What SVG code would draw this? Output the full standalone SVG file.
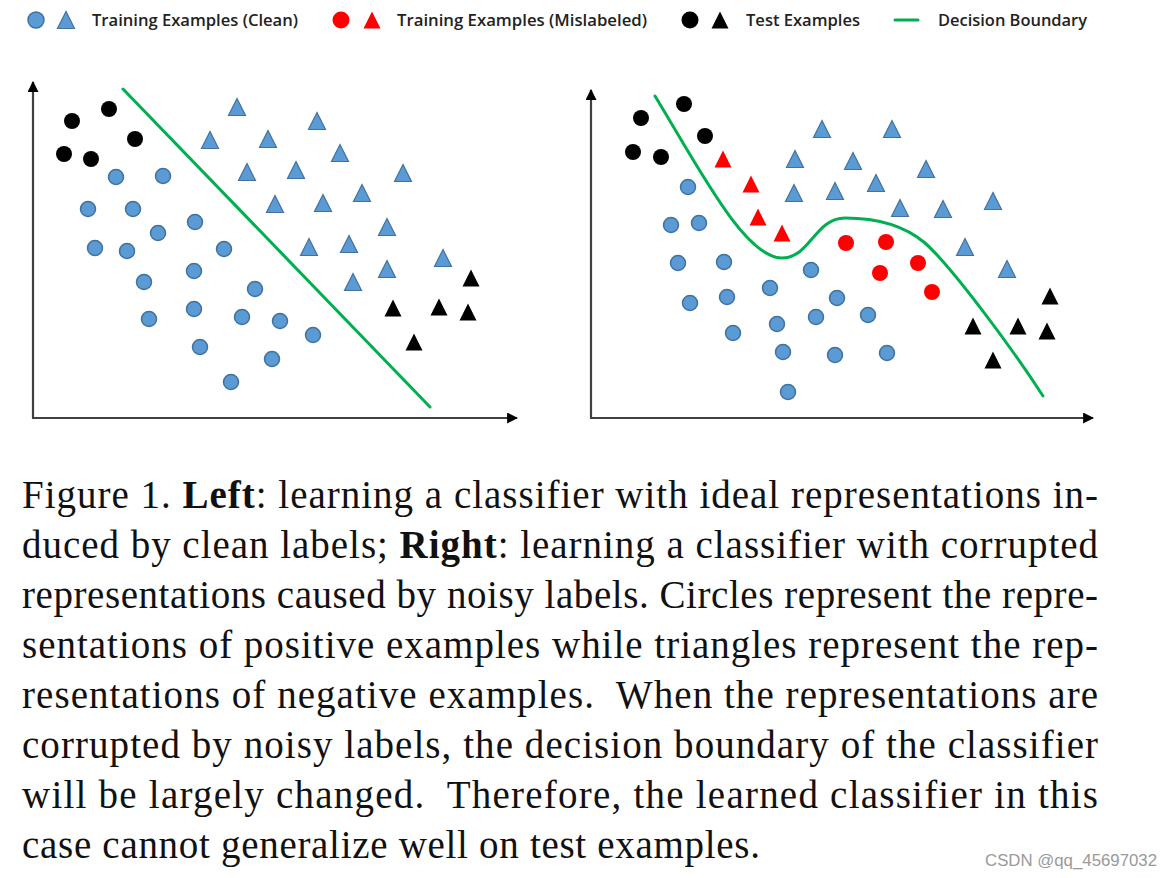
<svg xmlns="http://www.w3.org/2000/svg" xmlns:xlink="http://www.w3.org/1999/xlink" width="1172" height="878" viewBox="0 0 1172 878">
<style>
.bc{fill:#5B9BD5;stroke:#41719C;stroke-width:1.5}
.bt{fill:#5B9BD5;stroke:#41719C;stroke-width:1.2}
.rc{fill:#FF0000}
.rt{fill:#FF0000}
.kc{fill:#000}
.kt{fill:#000}
.axis{stroke:#404040;stroke-width:2.2;fill:none}
.bound{stroke:#00B050;stroke-width:3;fill:none;stroke-linecap:round}
.leg{font-family:"Open Sans","Liberation Sans",sans-serif;font-weight:600;font-size:16px;fill:#222}
.cap{font-family:"Liberation Serif","Times New Roman",serif;font-size:39px;fill:#111}
.wm{font-family:"Liberation Sans",Arial,sans-serif;font-size:16px;fill:#9a9a9a}
</style>
<defs>
<path id="tri" d="M0,-8.5 L8.5,8.5 L-8.5,8.5 Z"/>
<marker id="arr" viewBox="0 0 10 10" refX="9" refY="5" markerWidth="5" markerHeight="5" orient="auto" markerUnits="strokeWidth">
<path d="M0,0 L10,5 L0,10 Z" fill="#000"/>
</marker>
</defs>
<rect width="1172" height="878" fill="#fff"/>

<g id="legend">
<circle class="bc" cx="36" cy="20" r="8"/>
<use href="#tri" class="bt" x="66" y="20"/>
<text class="leg" x="92" y="26" textLength="206" lengthAdjust="spacingAndGlyphs">Training Examples (Clean)</text>
<circle class="rc" cx="341" cy="20" r="8.5"/>
<use href="#tri" class="rt" x="372" y="20"/>
<text class="leg" x="397" y="26" textLength="250" lengthAdjust="spacingAndGlyphs">Training Examples (Mislabeled)</text>
<circle class="kc" cx="690" cy="20" r="8.5"/>
<use href="#tri" class="kt" x="720" y="20"/>
<text class="leg" x="746" y="26" textLength="114" lengthAdjust="spacingAndGlyphs">Test Examples</text>
<line class="bound" x1="895" y1="20" x2="918" y2="20"/>
<text class="leg" x="938" y="26" textLength="149" lengthAdjust="spacingAndGlyphs">Decision Boundary</text>
</g>

<g id="left-plot">
<g id="left-axes">
<line class="axis" x1="33" y1="418" x2="33" y2="82" marker-end="url(#arr)"/>
<line class="axis" x1="32" y1="418" x2="517" y2="418" marker-end="url(#arr)"/>
</g>
<line id="left-boundary" class="bound" x1="123" y1="89" x2="430" y2="407"/>
<g id="left-test-circles" class="kc">
<circle cx="72" cy="121" r="8"/><circle cx="109" cy="109" r="8"/><circle cx="135" cy="139" r="8"/><circle cx="64" cy="154" r="8"/><circle cx="91" cy="159" r="8"/>
</g>
<g id="left-clean-circles" class="bc">
<circle cx="116" cy="177" r="7.5"/><circle cx="163" cy="176" r="7.5"/><circle cx="88" cy="209" r="7.5"/><circle cx="133" cy="209" r="7.5"/><circle cx="195" cy="222" r="7.5"/><circle cx="158" cy="233" r="7.5"/><circle cx="95" cy="248" r="7.5"/><circle cx="127" cy="251" r="7.5"/><circle cx="224" cy="249" r="7.5"/><circle cx="194" cy="271" r="7.5"/><circle cx="144" cy="282" r="7.5"/><circle cx="255" cy="289" r="7.5"/><circle cx="194" cy="309" r="7.5"/><circle cx="242" cy="317" r="7.5"/><circle cx="280" cy="321" r="7.5"/><circle cx="149" cy="319" r="7.5"/><circle cx="200" cy="347" r="7.5"/><circle cx="272" cy="359" r="7.5"/><circle cx="231" cy="382" r="7.5"/><circle cx="313" cy="335" r="7.5"/>
</g>
<g id="left-clean-triangles" class="bt">
<use href="#tri" x="237" y="107"/><use href="#tri" x="210" y="140"/><use href="#tri" x="268" y="139"/><use href="#tri" x="247" y="172"/><use href="#tri" x="296" y="170"/><use href="#tri" x="275" y="204"/><use href="#tri" x="317" y="121"/><use href="#tri" x="340" y="153"/><use href="#tri" x="403" y="173"/><use href="#tri" x="362" y="193"/><use href="#tri" x="323" y="203"/><use href="#tri" x="387" y="227"/><use href="#tri" x="309" y="247"/><use href="#tri" x="349" y="244"/><use href="#tri" x="443" y="258"/><use href="#tri" x="387" y="269"/><use href="#tri" x="353" y="282"/>
</g>
<g id="left-test-triangles" class="kt">
<use href="#tri" x="471" y="278"/><use href="#tri" x="393" y="308"/><use href="#tri" x="439" y="307"/><use href="#tri" x="468" y="312"/><use href="#tri" x="414" y="342"/>
</g>
</g>

<g id="right-plot">
<g id="right-axes">
<line class="axis" x1="591" y1="418" x2="591" y2="90" marker-end="url(#arr)"/>
<line class="axis" x1="590" y1="418" x2="1093" y2="418" marker-end="url(#arr)"/>
</g>
<path id="right-boundary" class="bound" d="M655,96 C700,170 745,258 782,258 C810,258 815,218 845,218 C880,218 905,226 925,243 C950,265 1010,345 1043,396"/>
<g id="right-test-circles" class="kc">
<circle cx="641" cy="118" r="8"/><circle cx="684" cy="104" r="8"/><circle cx="705" cy="136" r="8"/><circle cx="633" cy="152" r="8"/><circle cx="661" cy="157" r="8"/>
</g>
<g id="right-mislabeled-triangles" class="rt">
<use href="#tri" x="723" y="159"/><use href="#tri" x="751" y="184"/><use href="#tri" x="758" y="217"/><use href="#tri" x="782" y="233"/>
</g>
<g id="right-mislabeled-circles" class="rc">
<circle cx="846" cy="243" r="8"/><circle cx="886" cy="242" r="8"/><circle cx="880" cy="273" r="8"/><circle cx="918" cy="263" r="8"/><circle cx="932" cy="292" r="8"/>
</g>
<g id="right-clean-circles" class="bc">
<circle cx="688" cy="187" r="7.5"/><circle cx="671" cy="225" r="7.5"/><circle cx="699" cy="223" r="7.5"/><circle cx="678" cy="263" r="7.5"/><circle cx="724" cy="262" r="7.5"/><circle cx="811" cy="270" r="7.5"/><circle cx="770" cy="288" r="7.5"/><circle cx="690" cy="303" r="7.5"/><circle cx="727" cy="297" r="7.5"/><circle cx="837" cy="298" r="7.5"/><circle cx="816" cy="317" r="7.5"/><circle cx="868" cy="315" r="7.5"/><circle cx="777" cy="324" r="7.5"/><circle cx="733" cy="333" r="7.5"/><circle cx="783" cy="352" r="7.5"/><circle cx="835" cy="355" r="7.5"/><circle cx="887" cy="353" r="7.5"/><circle cx="788" cy="392" r="7.5"/>
</g>
<g id="right-clean-triangles" class="bt">
<use href="#tri" x="822" y="129"/><use href="#tri" x="892" y="129"/><use href="#tri" x="795" y="159"/><use href="#tri" x="853" y="161"/><use href="#tri" x="926" y="169"/><use href="#tri" x="794" y="193"/><use href="#tri" x="835" y="191"/><use href="#tri" x="876" y="183"/><use href="#tri" x="900" y="208"/><use href="#tri" x="943" y="209"/><use href="#tri" x="993" y="201"/><use href="#tri" x="965" y="247"/><use href="#tri" x="1007" y="269"/>
</g>
<g id="right-test-triangles" class="kt">
<use href="#tri" x="1050" y="296"/><use href="#tri" x="973" y="326"/><use href="#tri" x="1018" y="326"/><use href="#tri" x="1047" y="331"/><use href="#tri" x="993" y="360"/>
</g>
</g>

<g id="caption" class="cap">
<text x="22" y="508" textLength="1076" lengthAdjust="spacing">Figure 1. <tspan font-weight="bold">Left</tspan>: learning a classifier with ideal representations in-</text>
<text x="22" y="558" textLength="1076" lengthAdjust="spacing">duced by clean labels; <tspan font-weight="bold">Right</tspan>: learning a classifier with corrupted</text>
<text x="22" y="608" textLength="1076" lengthAdjust="spacing">representations caused by noisy labels. Circles represent the repre-</text>
<text x="22" y="658" textLength="1076" lengthAdjust="spacing">sentations of positive examples while triangles represent the rep-</text>
<text x="22" y="708" textLength="1076" lengthAdjust="spacing">resentations of negative examples.&#160; When the representations are</text>
<text x="22" y="758" textLength="1076" lengthAdjust="spacing">corrupted by noisy labels, the decision boundary of the classifier</text>
<text x="22" y="808" textLength="1076" lengthAdjust="spacing">will be largely changed.&#160; Therefore, the learned classifier in this</text>
<text x="22" y="858" textLength="738" lengthAdjust="spacing">case cannot generalize well on test examples.</text>
</g>

<text class="wm" x="985" y="866" textLength="172" lengthAdjust="spacingAndGlyphs">CSDN @qq_45697032</text>
</svg>
